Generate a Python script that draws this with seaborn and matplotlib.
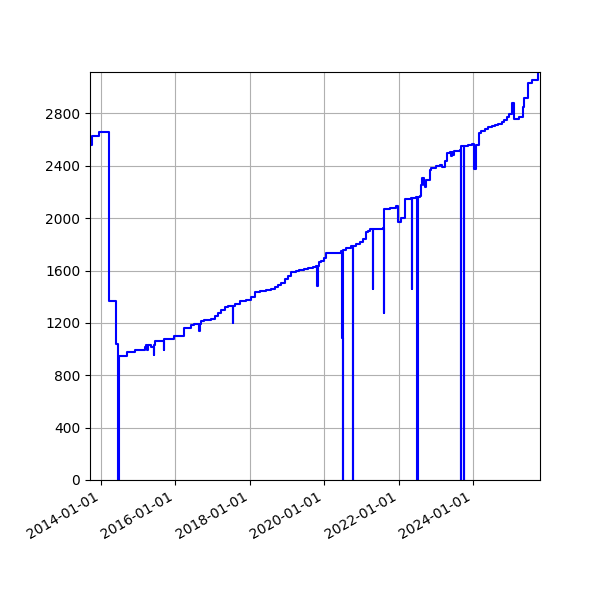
import seaborn as sns
import matplotlib
matplotlib.use('Agg')
import matplotlib.pyplot as plt
import matplotlib.dates as mdates
import matplotlib.ticker as mticker
import pandas as pd

# step points (date where the value starts, value)
dates = [
    '2013-09-18', '2013-10-03', '2013-12-15', '2014-03-25', '2014-05-28', '2014-06-23',
    '2014-06-27', '2014-09-16', '2014-12-03', '2015-03-12', '2015-03-22', '2015-04-04',
    '2015-04-08', '2015-05-10', '2015-06-04', '2015-06-08', '2015-06-18', '2015-09-10',
    '2015-09-14', '2015-12-24', '2016-03-23', '2016-06-06', '2016-07-08', '2016-08-26',
    '2016-08-30', '2016-09-12', '2016-10-14', '2016-12-19', '2017-01-21', '2017-02-22',
    '2017-03-28', '2017-04-29', '2017-06-01', '2017-07-19', '2017-07-23', '2017-08-05',
    '2017-09-23', '2017-11-28', '2018-01-16', '2018-02-18', '2018-04-08', '2018-06-12',
    '2018-07-31', '2018-09-02', '2018-10-04', '2018-11-06', '2018-12-08', '2019-01-10',
    '2019-02-12', '2019-04-02', '2019-05-04', '2019-06-22', '2019-07-25', '2019-09-12',
    '2019-10-15', '2019-10-25', '2019-10-29', '2019-11-10', '2019-12-03', '2019-12-29',
    '2020-01-22', '2020-06-18', '2020-06-26', '2020-07-04', '2020-07-07', '2020-07-30',
    '2020-09-24', '2020-10-10', '2020-10-13', '2020-11-12', '2020-12-14', '2021-01-16',
    '2021-02-12', '2021-03-06', '2021-03-21', '2021-04-24', '2021-04-28', '2021-07-31',
    '2021-08-07', '2021-08-11', '2021-10-05', '2021-12-10', '2021-12-23', '2022-01-28',
    '2022-03-01', '2022-05-05', '2022-05-08', '2022-05-12', '2022-06-23', '2022-07-03',
    '2022-07-06', '2022-07-26', '2022-08-05', '2022-08-18', '2022-09-06', '2022-09-13',
    '2022-09-30', '2022-11-04', '2022-11-18', '2022-12-31', '2023-02-08', '2023-02-25',
    '2023-03-29', '2023-04-15', '2023-05-17', '2023-06-01', '2023-06-05', '2023-06-20',
    '2023-06-24', '2023-08-23', '2023-09-02', '2023-09-05', '2023-10-01', '2023-10-04',
    '2023-11-13', '2023-12-22', '2024-01-12', '2024-02-02', '2024-02-28', '2024-03-22',
    '2024-04-24', '2024-05-26', '2024-06-29', '2024-07-31', '2024-09-02', '2024-10-05',
    '2024-10-31', '2024-11-23', '2024-12-19', '2025-01-12', '2025-02-07', '2025-03-28',
    '2025-05-06', '2025-05-16', '2025-06-24', '2025-07-28', '2025-09-30', '2025-10-17',
]
values = [
    2561, 2625, 2660, 1370, 1040, 0,
    945, 975, 996, 1015, 1034, 990,
    1034, 1015, 958, 1034, 1065, 996,
    1080, 1100, 1160, 1187, 1195, 1136,
    1195, 1212, 1220, 1230, 1250, 1276,
    1301, 1322, 1332, 1200, 1332, 1347,
    1365, 1378, 1395, 1434, 1441, 1449,
    1460, 1475, 1490, 1505, 1536, 1561,
    1587, 1594, 1607, 1612, 1620, 1627,
    1637, 1485, 1637, 1663, 1676, 1696,
    1734, 1752, 1085, 0, 1760, 1773,
    1785, 0, 1790, 1803, 1818, 1841,
    1892, 1905, 1918, 1460, 1918, 1925,
    1276, 2070, 2078, 2090, 1968, 2001,
    2147, 2154, 1462, 2154, 2159, 0,
    2159, 2167, 2256, 2303, 2256, 2238,
    2290, 2370, 2383, 2401, 2409, 2388,
    2440, 2495, 2505, 2478, 2505, 2480,
    2515, 2523, 0, 2548, 0, 2553,
    2561, 2569, 2378, 2561, 2650, 2663,
    2681, 2693, 2701, 2709, 2719, 2734,
    2752, 2770, 2796, 2880, 2760, 2770,
    2846, 2918, 3032, 3057, 3116, 3116,
]

df = pd.DataFrame({'date': pd.to_datetime(dates), 'value': values})

fig, ax = plt.subplots(figsize=(6, 6), dpi=100)
sns.lineplot(data=df, x='date', y='value', ax=ax, color='blue',
             drawstyle='steps-post', estimator=None, linewidth=1.5)
ax.set_xlabel('')
ax.set_ylabel('')
ax.margins(0)
ax.set_ylim(0, df['value'].max())
ax.xaxis.set_major_locator(mdates.YearLocator(2))
ax.xaxis.set_major_formatter(mdates.DateFormatter('%Y-%m-%d'))
ax.yaxis.set_major_locator(mticker.MultipleLocator(400))
ax.grid(True)
fig.autofmt_xdate()
fig.subplots_adjust(left=0.15, right=0.9, top=0.88, bottom=0.2)
plt.savefig('out.png', dpi=100)
